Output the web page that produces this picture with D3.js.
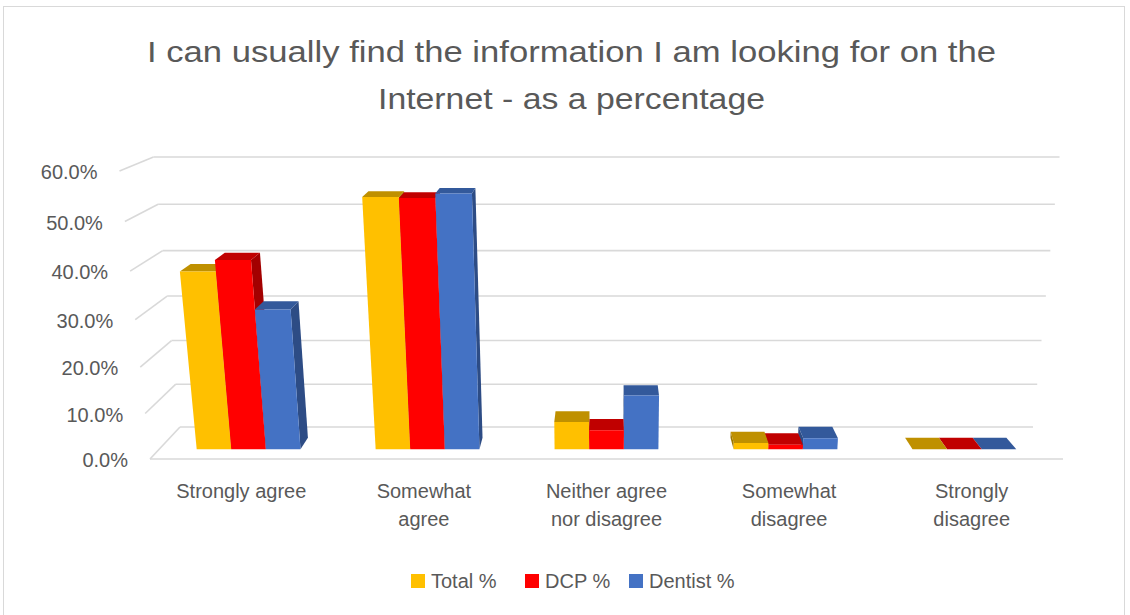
<!DOCTYPE html>
<html>
<head>
<meta charset="utf-8">
<script src="https://cdn.jsdelivr.net/npm/d3@7"></script>
<style>
  html, body { margin: 0; padding: 0; background: #fff; }
  svg { display: block; font-family: "Liberation Sans", Arial, sans-serif; }
</style>
</head>
<body>
<svg id="chart" width="1130" height="615"></svg>
<script>
// ---- data ----
const categories = ["Strongly agree", "Somewhat agree", "Neither agree nor disagree", "Somewhat disagree", "Strongly disagree"];
const categoryLines = [["Strongly agree"], ["Somewhat", "agree"], ["Neither agree", "nor disagree"], ["Somewhat", "disagree"], ["Strongly", "disagree"]];
const seriesNames = ["Total %", "DCP %", "Dentist %"];
const totalPct   = [0.386, 0.539, 0.061, 0.014, 0];
const dcpPct     = [0.410, 0.537, 0.043, 0.010, 0];
const dentistPct = [0.306, 0.546, 0.120, 0.025, 0];
const yTicks = [0, 0.1, 0.2, 0.3, 0.4, 0.5, 0.6];
const titleLines = ["I can usually find the information I am looking for on the", "Internet - as a percentage"];

const seriesValues = [totalPct, dcpPct, dentistPct];
const frontColors = ["#FFC000", "#FF0000", "#4472C4"];
const topColors   = ["#BF9000", "#C00000", "#33599B"];
const sideColors  = ["#9E7700", "#A30000", "#2D4C85"];

const svg = d3.select("#chart");

// chart frame
svg.append("rect").attr("x", 3.5).attr("y", 6.5).attr("width", 1121).attr("height", 700)
  .attr("fill", "#fff").attr("stroke", "#D9D9D9").attr("stroke-width", 1);

// ---- scales in world space ----
// x: -1 (left wall) .. 1 (right edge); v: 0 (floor) .. 1 (top of axis); z: 0 (front) .. 1 (back wall)
const xBand = d3.scaleBand().domain(categories).range([-1, 1]).paddingInner(0.42).paddingOuter(0.21);
const xInner = d3.scaleBand().domain(seriesNames).range([0, xBand.bandwidth()]).padding(0);
const vScale = d3.scaleLinear().domain([0, 0.6]).range([0, 1]);
const zFront = 0.29, zBack = 0.65;

// perspective projection of the plot box, camera centred above and in front
const CX = 606.5, KX = 456.5, SY0 = 459, MV = -298.8, NZ = -2.0, PV = -0.0626, QZ = 0.0703;
function project(x, v, z) {
  const w = 1 + PV * v + QZ * z;
  return [CX + KX * x / w, (SY0 + MV * v + NZ * z) / w];
}
const poly = pts => "M" + pts.map(p => project(...p).join(",")).join("L") + "Z";
const seg = (a, b) => { const p = project(...a), q = project(...b); return {x1: p[0], y1: p[1], x2: q[0], y2: q[1]}; };

// ---- gridlines: back wall + left side wall ----
const grid = svg.append("g").attr("stroke", "#D9D9D9").attr("stroke-width", 1.6).attr("fill", "none");
yTicks.forEach(t => {
  const v = vScale(t);
  [seg([-1, v, 1], [1, v, 1]), seg([-1, v, 0], [-1, v, 1])].forEach(s =>
    grid.append("line").attr("x1", s.x1).attr("y1", s.y1).attr("x2", s.x2).attr("y2", s.y2));
});
// floor front edge
{
  const s = seg([-1, 0, 0], [1, 0, 0]);
  grid.append("line").attr("x1", s.x1).attr("y1", s.y1).attr("x2", s.x2).attr("y2", s.y2);
}

// ---- value axis labels ----
const fmt = d3.format(".1%");
svg.append("g").selectAll("text").data(yTicks).join("text")
  .attr("x", d => project(-1, vScale(d), 0)[0] - 22)
  .attr("y", d => project(-1, vScale(d), 0)[1] + 8)
  .attr("text-anchor", "end").attr("font-size", 20).attr("fill", "#595959")
  .text(d => fmt(d));

// ---- bars ----
const bars = [];
categories.forEach((c, ci) => {
  seriesNames.forEach((s, si) => {
    const x0 = xBand(c) + xInner(s);
    const x1 = x0 + xInner.bandwidth();
    bars.push({ci, si, x0, x1, xc: (x0 + x1) / 2, v: vScale(seriesValues[si][ci])});
  });
});
// far-from-centre bars first so nearer ones overlap them
bars.sort((a, b) => Math.abs(b.xc) - Math.abs(a.xc));

const barG = svg.append("g");
bars.forEach(b => {
  const g = barG.append("g");
  const sx = b.xc < 0 ? b.x1 : b.x0;
  g.append("path").attr("d", poly([[sx, 0, zFront], [sx, b.v, zFront], [sx, b.v, zBack], [sx, 0, zBack]]))
    .attr("fill", sideColors[b.si]);
  g.append("path").attr("d", poly([[b.x0, b.v, zFront], [b.x1, b.v, zFront], [b.x1, b.v, zBack], [b.x0, b.v, zBack]]))
    .attr("fill", topColors[b.si]);
  if (b.v > 0) {
    g.append("path").attr("d", poly([[b.x0, 0, zFront], [b.x1, 0, zFront], [b.x1, b.v, zFront], [b.x0, b.v, zFront]]))
      .attr("fill", frontColors[b.si]);
  }
});

// ---- category labels ----
const catG = svg.append("g").attr("font-size", 20).attr("fill", "#595959").attr("text-anchor", "middle");
categories.forEach((c, i) => {
  const cx = project(xBand(c) + xBand.bandwidth() / 2, 0, 0)[0];
  categoryLines[i].forEach((ln, li) => {
    catG.append("text").attr("x", cx).attr("y", 498 + li * 28).text(ln);
  });
});

// ---- title ----
const titleG = svg.append("g").attr("fill", "#595959").attr("text-anchor", "middle").attr("font-size", 30);
const titleWidths = [849, 387];
titleLines.forEach((t, i) => {
  titleG.append("text").attr("x", 571.5).attr("y", 62 + i * 47)
    .attr("textLength", titleWidths[i]).attr("lengthAdjust", "spacingAndGlyphs").text(t);
});

// ---- legend ----
const legendX = [411, 525, 629];
const leg = svg.append("g");
seriesNames.forEach((s, i) => {
  leg.append("rect").attr("x", legendX[i]).attr("y", 574).attr("width", 14).attr("height", 14).attr("fill", frontColors[i]);
  leg.append("text").attr("x", legendX[i] + 20).attr("y", 588).attr("font-size", 20).attr("fill", "#595959").text(s);
});
</script>
</body>
</html>
